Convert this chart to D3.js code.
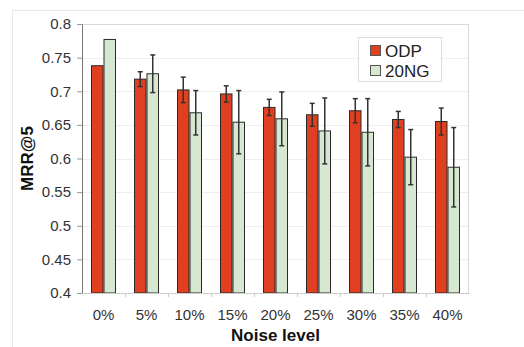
<!DOCTYPE html>
<html>
<head>
<meta charset="utf-8">
<script src="https://cdn.jsdelivr.net/npm/d3@7/dist/d3.min.js"></script>
<style>
  html, body { margin: 0; padding: 0; background: #fff; }
  svg { display: block; }
  text { font-family: "Liberation Sans", Arial, Helvetica, sans-serif; }
</style>
</head>
<body>
<svg id="chart" width="524" height="347"></svg>
<script>
// Noise levels on the x axis
const categories = ["0%", "5%", "10%", "15%", "20%", "25%", "30%", "35%", "40%"];
const seriesNames = ["ODP", "20NG"];
// MRR@5 means
const odpValues  = [0.738, 0.718, 0.702, 0.696, 0.676, 0.665, 0.671, 0.658, 0.655];
const ngValues   = [0.777, 0.726, 0.668, 0.654, 0.659, 0.641, 0.639, 0.602, 0.587];
// half-width of the error bars
const odpErrors  = [0.000, 0.011, 0.019, 0.012, 0.012, 0.017, 0.018, 0.012, 0.020];
const ngErrors   = [0.000, 0.028, 0.033, 0.047, 0.040, 0.049, 0.050, 0.041, 0.059];
const yTicks = [0.4, 0.45, 0.5, 0.55, 0.6, 0.65, 0.7, 0.75, 0.8];

const colors = { "ODP": "#e0401f", "20NG": "#d6e8d2" };

const svg = d3.select("#chart");
const margin = { left: 82, right: 55, top: 24, bottom: 54 };
const W = 524, H = 347;
const plotW = W - margin.left - margin.right;
const plotH = H - margin.top - margin.bottom;

// faint outer frame of the chart area
svg.append("rect").attr("x", 12.5).attr("y", 10.5).attr("width", 520).attr("height", 345)
  .attr("fill", "none").attr("stroke", "#e6e6e6");

const g = svg.append("g").attr("transform", `translate(${margin.left},${margin.top})`);

const x0 = d3.scaleBand().domain(categories).range([0, plotW]).paddingInner(0).paddingOuter(0);
const x1 = d3.scaleBand().domain(seriesNames).range([9, x0.bandwidth() - 9]).padding(0);
const y = d3.scaleLinear().domain([0.4, 0.8]).range([plotH, 0]);

// gridlines
g.append("g").selectAll("line").data(yTicks.slice(1)).join("line")
  .attr("x1", 0).attr("x2", plotW)
  .attr("y1", d => Math.round(y(d)) + 0.5).attr("y2", d => Math.round(y(d)) + 0.5)
  .attr("stroke", "#efefef").attr("stroke-width", 1);

// plot frame (top and right)
g.append("path")
  .attr("d", `M0.5,0.5H${plotW - 0.5}V${plotH}`)
  .attr("fill", "none").attr("stroke", "#d8d8d8");

const rows = categories.map((c, i) => ({
  cat: c,
  items: [
    { s: "ODP", v: odpValues[i], e: odpErrors[i] },
    { s: "20NG", v: ngValues[i], e: ngErrors[i] }
  ]
}));

const groups = g.selectAll("g.grp").data(rows).join("g")
  .attr("class", "grp")
  .attr("transform", d => `translate(${x0(d.cat)},0)`);

groups.selectAll("rect").data(d => d.items).join("rect")
  .attr("x", d => x1(d.s) + 0.5)
  .attr("y", d => y(d.v))
  .attr("width", x1.bandwidth() - 1)
  .attr("height", d => plotH - y(d.v))
  .attr("fill", d => colors[d.s])
  .attr("stroke", "#2a2a2a").attr("stroke-width", 1);

// error bars
const err = groups.selectAll("g.err").data(d => d.items.filter(it => it.e > 0)).join("g").attr("class", "err");
err.append("line")
  .attr("x1", d => x1(d.s) + x1.bandwidth() / 2).attr("x2", d => x1(d.s) + x1.bandwidth() / 2)
  .attr("y1", d => y(d.v + d.e)).attr("y2", d => y(d.v - d.e))
  .attr("stroke", "#333").attr("stroke-width", 1.5);
err.selectAll("line.cap").data(d => [d.v + d.e, d.v - d.e].map(v => ({ s: d.s, v }))).join("line")
  .attr("class", "cap")
  .attr("x1", d => x1(d.s) + x1.bandwidth() / 2 - 2.5).attr("x2", d => x1(d.s) + x1.bandwidth() / 2 + 2.5)
  .attr("y1", d => y(d.v)).attr("y2", d => y(d.v))
  .attr("stroke", "#333").attr("stroke-width", 1.5);

// y axis
const yAxis = g.append("g").call(d3.axisLeft(y).tickValues(yTicks).tickSize(5).tickFormat(d3.format("")));
yAxis.select(".domain").attr("stroke", "#777");
yAxis.selectAll(".tick line").attr("stroke", "#999");
yAxis.selectAll(".tick text").attr("font-size", 15).attr("fill", "#333").attr("x", -11);

// x axis
const xAxis = g.append("g").attr("transform", `translate(0,${plotH})`)
  .call(d3.axisBottom(x0).tickSize(0).tickPadding(16));
xAxis.select(".domain").attr("stroke", "#ccc");
xAxis.selectAll(".tick text").attr("font-size", 15).attr("fill", "#333");
// category separators
g.append("g").selectAll("line").data(categories.slice(1)).join("line")
  .attr("x1", d => Math.round(x0(d)) + 0.5).attr("x2", d => Math.round(x0(d)) + 0.5)
  .attr("y1", plotH).attr("y2", plotH + 4)
  .attr("stroke", "#ccc");

// axis titles
svg.append("text").attr("x", margin.left + plotW / 2).attr("y", 341)
  .attr("text-anchor", "middle").attr("font-size", 17).attr("font-weight", "bold").attr("fill", "#111")
  .text("Noise level");
svg.append("text").attr("transform", `translate(33,${margin.top + plotH / 2}) rotate(-90)`)
  .attr("text-anchor", "middle").attr("font-size", 17).attr("font-weight", "bold").attr("fill", "#111")
  .text("MRR@5");

// legend
const lg = svg.append("g").attr("transform", "translate(358,37)");
lg.append("rect").attr("x", 0.5).attr("y", 0.5).attr("width", 83).attr("height", 44)
  .attr("fill", "#fff").attr("stroke", "#ddd");
seriesNames.forEach((s, i) => {
  const row = lg.append("g").attr("transform", `translate(12,${8 + i * 20})`);
  row.append("rect").attr("x", 0.5).attr("y", 0.5).attr("width", 10).attr("height", 10)
    .attr("fill", colors[s]).attr("stroke", "#555");
  row.append("text").attr("x", 15).attr("y", 11.5).attr("font-size", 17).attr("fill", "#222").text(s);
});
</script>
</body>
</html>
